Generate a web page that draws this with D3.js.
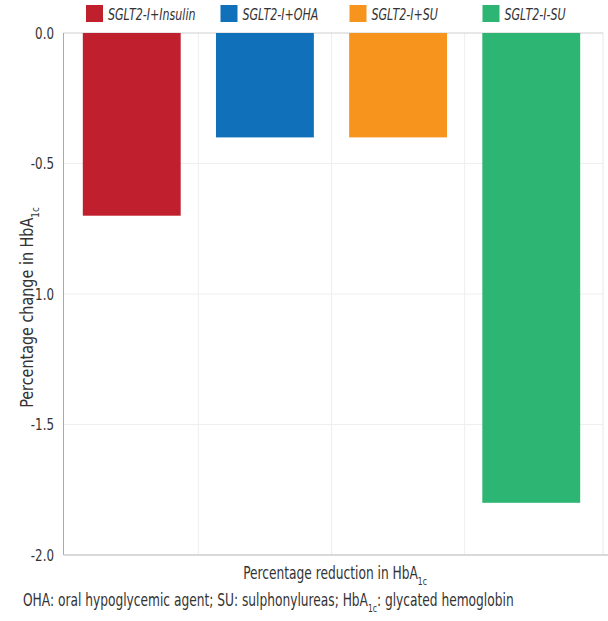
<!DOCTYPE html>
<html><head><meta charset="utf-8">
<script src="https://cdn.jsdelivr.net/npm/d3@7"></script>
<style>body{margin:0;background:#fff}</style>
</head><body>
<svg id="c" width="608" height="621"></svg>
<script>
const categories = ["SGLT2-I+Insulin", "SGLT2-I+OHA", "SGLT2-I+SU", "SGLT2-I-SU"];
const values = [-0.7, -0.4, -0.4, -1.8];
const colors = ["#C01F2E", "#1071BA", "#F7941E", "#2DB673"];
const yTicks = [0, -0.5, -1.0, -1.5, -2.0];

const FONT = "'DejaVu Sans Condensed','DejaVu Sans',sans-serif";
const svg = d3.select("#c");
const L = 63.5, R = 603, T = 33, B = 555;
const x = d3.scaleBand().domain(categories).range([65.5, 597.5]).paddingInner(0.265).paddingOuter(0.13);
const y = d3.scaleLinear().domain([-2, 0]).range([B, T]);

function label(parent, px, py, anchor, size, sx, rot) {
  const g = parent.append("g").attr("transform", `translate(${px},${py})${rot ? ` rotate(${rot})` : ""} scale(${sx},1)`);
  return g.append("text").attr("text-anchor", anchor).attr("font-family", FONT)
    .attr("font-size", size).attr("fill", "#333");
}

// grid
const g = svg.append("g");
g.selectAll(".hg").data(yTicks.slice(1, 4)).join("line")
  .attr("x1", L).attr("x2", R).attr("y1", d => y(d)).attr("y2", d => y(d))
  .attr("stroke", "#eeeeee").attr("stroke-width", 1);
const step = x.step();
const bounds = categories.slice(1).map(c => x(c) - x.paddingInner() * step / 2);
g.selectAll(".vg").data(bounds).join("line")
  .attr("x1", d => d).attr("x2", d => d).attr("y1", T).attr("y2", B)
  .attr("stroke", "#eeeeee").attr("stroke-width", 1);
svg.append("line").attr("x1", R).attr("x2", R).attr("y1", T).attr("y2", B).attr("stroke", "#e8e8e8");
svg.append("line").attr("x1", L).attr("x2", R).attr("y1", T).attr("y2", T).attr("stroke", "#cfcfcf");

// bars
svg.selectAll(".bar").data(categories).join("rect")
  .attr("x", d => x(d)).attr("width", x.bandwidth())
  .attr("y", y(0)).attr("height", (d, i) => y(values[i]) - y(0))
  .attr("fill", (d, i) => colors[i]);

// axis lines
svg.append("line").attr("x1", L).attr("x2", L).attr("y1", T).attr("y2", B).attr("stroke", "#aaaaaa");
svg.append("line").attr("x1", L).attr("x2", 608).attr("y1", B).attr("y2", B).attr("stroke", "#cccccc").attr("stroke-width", 1.5);

// y axis
const yAxis = d3.axisLeft(y).tickValues(yTicks).tickFormat(d => d3.format(".1f")(d).replace("−", "-")).tickSize(0).tickPadding(9);
const ya = svg.append("g").attr("transform", `translate(${L},0)`).call(yAxis);
ya.select(".domain").remove();
ya.selectAll("text").attr("font-family", FONT).attr("font-size", 16.5).attr("fill", "#333")
  .attr("x", 0).attr("transform", "translate(-9.5,0) scale(0.8,1)");

// y title
const yt = label(svg, 33, 307.5, "middle", 17, 0.94, -90);
yt.append("tspan").text("Percentage change in HbA");
yt.append("tspan").text("1c").attr("font-size", 10.5).attr("dy", 6);

// x title
const xt = label(svg, 335, 579, "middle", 17, 0.8);
xt.append("tspan").text("Percentage reduction in HbA");
xt.append("tspan").text("1c").attr("font-size", 10.5).attr("dy", 6);

// footnote
const fn = label(svg, 23, 605.5, "start", 17, 0.8);
fn.append("tspan").text("OHA: oral hypoglycemic agent; SU: sulphonylureas; HbA");
fn.append("tspan").text("1c").attr("font-size", 10.5).attr("dy", 6);
fn.append("tspan").text(": glycated hemoglobin").attr("dy", -6);

// legend
const legX = [86, 220.5, 349.5, 482.5];
const lg = svg.selectAll(".lg").data(categories).join("g").attr("transform", (d, i) => `translate(${legX[i]},5)`);
lg.append("rect").attr("width", 17).attr("height", 17).attr("fill", (d, i) => colors[i]);
lg.each(function(d) {
  label(d3.select(this), 22, 14.5, "start", 16, 0.77).attr("font-style", "italic").text(d);
});
</script>
</body></html>
